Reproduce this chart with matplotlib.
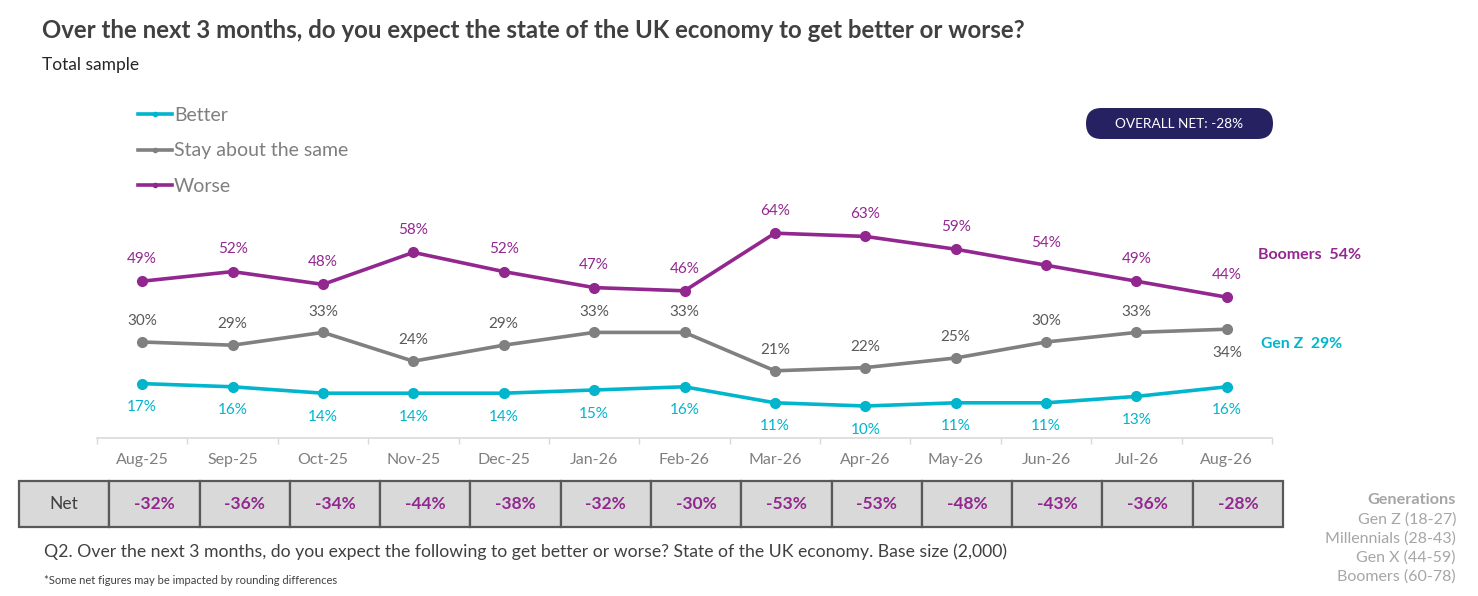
import matplotlib
matplotlib.use('Agg')
import matplotlib.pyplot as plt
from matplotlib.lines import Line2D
from matplotlib.patches import FancyBboxPatch

plt.rcParams['font.family'] = ['Lato', 'DejaVu Sans']

# data
months = ['Aug-25', 'Sep-25', 'Oct-25', 'Nov-25', 'Dec-25', 'Jan-26', 'Feb-26',
          'Mar-26', 'Apr-26', 'May-26', 'Jun-26', 'Jul-26', 'Aug-26']
better = [17, 16, 14, 14, 14, 15, 16, 11, 10, 11, 11, 13, 16]
same = [30, 29, 33, 24, 29, 33, 33, 21, 22, 25, 30, 33, 34]
worse = [49, 52, 48, 58, 52, 47, 46, 64, 63, 59, 54, 49, 44]
net = [-32, -36, -34, -44, -38, -32, -30, -53, -53, -48, -43, -36, -28]
generations = ['Gen Z (18-27)', 'Millennials (28-43)', 'Gen X (44-59)', 'Boomers (60-78)']

c_better = '#00B5CC'
c_same = '#808080'
c_worse = '#92278F'
c_navy = '#262262'

W, H = 1478, 596
fig = plt.figure(figsize=(W / 100, H / 100), dpi=100)

def px(x, y):
    # pixel from top-left -> figure fraction
    return x / W, 1 - y / H

# main chart
ax = fig.add_axes([97 / W, (H - 438) / H, 1175 / W, 320 / H])
xs = list(range(len(months)))
ax.plot(xs, better, color=c_better, lw=2.6, marker='o', ms=7, label='Better')
ax.plot(xs, same, color=c_same, lw=2.6, marker='o', ms=7, label='Stay about the same')
ax.plot(xs, worse, color=c_worse, lw=2.6, marker='o', ms=7, label='Worse')

for i in xs:
    ax.annotate(f'{worse[i]}%', (i, worse[i]), xytext=(0, 16), textcoords='offset points',
                ha='center', va='center', fontsize=11, color=c_worse)
    off = -17 if i == len(months) - 1 else 15
    ax.annotate(f'{same[i]}%', (i, same[i]), xytext=(0, off), textcoords='offset points',
                ha='center', va='center', fontsize=11, color='#595959')
    ax.annotate(f'{better[i]}%', (i, better[i]), xytext=(0, -17), textcoords='offset points',
                ha='center', va='center', fontsize=11, color=c_better)

ax.set_xlim(-0.5, len(months) - 0.5)
ax.set_ylim(0, 100)
ax.set_xticks(xs)
ax.set_xticklabels(months, fontsize=11.5, color='#7F7F7F')
ax.set_xticks([i - 0.5 for i in range(len(months) + 1)], minor=True)
ax.tick_params(axis='x', which='major', length=0, pad=11)
ax.tick_params(axis='x', which='minor', length=4, color='#D9D9D9', width=1)
ax.set_yticks([])
for s in ['top', 'right', 'left']:
    ax.spines[s].set_visible(False)
ax.spines['bottom'].set_color('#D9D9D9')
ax.spines['bottom'].set_linewidth(1.2)

handles = [Line2D([0], [0], color=c, lw=2.6, marker='o', ms=3) for c in (c_better, c_same, c_worse)]
leg = fig.legend(handles, ['Better', 'Stay about the same', 'Worse'], loc='upper left',
                 bbox_to_anchor=px(138, 107), frameon=False, fontsize=14,
                 handlelength=1.75, handletextpad=0.1, labelspacing=0.95, borderpad=0,
                 borderaxespad=0)
for t in leg.get_texts():
    t.set_color('#7F7F7F')

fig.text(*px(1258, 255), 'Boomers  54%', fontsize=11.5, fontweight='bold', color=c_worse, va='center')
fig.text(*px(1261, 344), 'Gen Z  29%', fontsize=11.3, fontweight='bold', color=c_better, va='center')

# overall net pill
pill = FancyBboxPatch((10.86, (H - 139) / 100), 1.87, 0.31,
                      boxstyle='round,pad=0,rounding_size=0.155',
                      transform=fig.dpi_scale_trans, facecolor=c_navy, edgecolor='none')
fig.patches.append(pill)
fig.text(*px(1179.5, 124), 'OVERALL NET: -28%', fontsize=9.8, color='white', ha='center', va='center')

# title block
fig.text(*px(42, 30), 'Over the next 3 months, do you expect the state of the UK economy to get better or worse?',
         fontsize=17.3, fontweight='bold', color='#404040', va='center')
fig.text(*px(42, 65), 'Total sample', fontsize=12.5, color='#262626', va='center')

# net table
tax = fig.add_axes([19 / W, (H - 527) / H, 1264 / W, 46 / H])
tax.axis('off')
cells = [['Net'] + [f'{v}%' for v in net]]
tab = tax.table(cellText=cells, cellLoc='center', bbox=[0, 0, 1, 1])
tab.auto_set_font_size(False)
for (r, c), cell in tab.get_celld().items():
    cell.set_facecolor('#D9D9D9')
    cell.set_edgecolor('#595959')
    cell.set_linewidth(1.6)
    txt = cell.get_text()
    if c == 0:
        txt.set_fontsize(12.5)
        txt.set_color('#404040')
    else:
        txt.set_fontsize(12.5)
        txt.set_fontweight('bold')
        txt.set_color(c_worse)

# footnotes
fig.text(*px(44, 552), 'Q2. Over the next 3 months, do you expect the following to get better or worse? '
         'State of the UK economy. Base size (2,000)', fontsize=12.7, color='#404040', va='center')
fig.text(*px(44, 580), '*Some net figures may be impacted by rounding differences',
         fontsize=8, color='#404040', va='center')

# generations key
fig.text(*px(1456, 500), 'Generations', fontsize=11.7, fontweight='bold', color='#A6A6A6',
         ha='right', va='center')
for k, g in enumerate(generations):
    fig.text(*px(1456, 520 + k * 18.7), g, fontsize=11.5, color='#A6A6A6', ha='right', va='center')

fig.savefig('out.png', dpi=100)
